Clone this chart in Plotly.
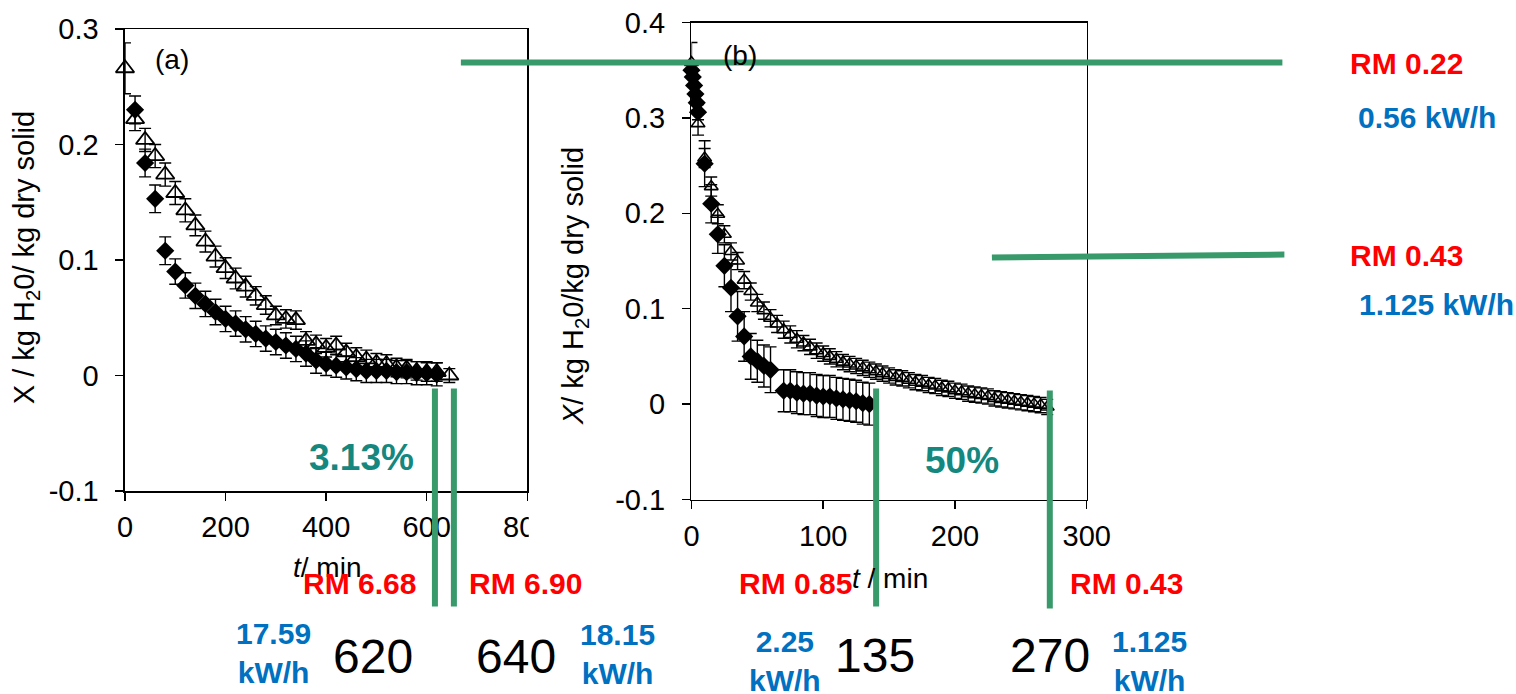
import plotly.graph_objects as go

# Calibration of the photographed page: screen = S * page + O (measured on earlier runs)
SX, OX = 0.981, 6.3
SY, OY = 0.955, 15.5
FW, FH = 1540, 712
FONT = "Liberation Sans, Arial, sans-serif"

# ---------------- data: panel (a) ----------------
a_tri_t = [0, 20, 40, 60, 80, 100, 120, 140, 160, 180, 200, 220, 240, 260, 280, 300, 320,
           340, 360, 380, 400, 420, 440, 460, 480, 500, 520, 540, 560, 580, 600, 620, 645]
a_tri_y = [0.266, 0.222, 0.204, 0.190, 0.174, 0.158, 0.143, 0.130, 0.116, 0.103, 0.093, 0.084,
           0.077, 0.069, 0.061, 0.052, 0.049, 0.048, 0.030, 0.027, 0.024, 0.026, 0.020, 0.016,
           0.014, 0.011, 0.010, 0.007, 0.006, 0.004, 0.003, 0.003, 0.000]
a_tri_err = [0.022, 0.010, 0.010, 0.010, 0.010, 0.010, 0.010, 0.009, 0.009, 0.009, 0.009, 0.009,
             0.009, 0.008, 0.008, 0.008, 0.008, 0.008, 0.008, 0.008, 0.008, 0.008, 0.008, 0.008,
             0.008, 0.008, 0.008, 0.008, 0.008, 0.008, 0.008, 0.008, 0.006]

a_dia_t = [20, 40, 60, 80, 100, 120, 140, 160, 180, 200, 220, 240, 260, 280, 300, 320, 340,
           360, 380, 400, 420, 440, 460, 480, 500, 520, 540, 560, 580, 600, 620]
a_dia_y = [0.230, 0.184, 0.153, 0.108, 0.090, 0.078, 0.069, 0.062, 0.055, 0.049, 0.045, 0.040,
           0.036, 0.032, 0.029, 0.026, 0.023, 0.019, 0.013, 0.010, 0.0085, 0.007, 0.0055, 0.004,
           0.004, 0.004, 0.003, 0.003, 0.002, 0.002, 0.001]
a_dia_err = [0.012, 0.012, 0.012, 0.012, 0.011, 0.011, 0.011, 0.011, 0.011, 0.011, 0.011, 0.011,
             0.011, 0.011, 0.011, 0.011, 0.011, 0.011, 0.011, 0.010, 0.010, 0.010, 0.010, 0.010,
             0.010, 0.010, 0.010, 0.010, 0.010, 0.010, 0.010]

# ---------------- data: panel (b) ----------------
b_tri_t = [0, 5, 10, 15, 20, 25, 30, 35, 40, 45, 50, 55, 60, 65, 70, 75, 80, 85, 90, 95, 100,
           105, 110, 115, 120, 125, 130, 135, 140, 145, 150, 155, 160, 165, 170, 175, 180, 185,
           190, 195, 200, 205, 210, 215, 220, 225, 230, 235, 240, 245, 250, 255, 260, 265, 270]
b_tri_y = [0.358, 0.294, 0.258, 0.228, 0.199, 0.178, 0.160, 0.150, 0.130, 0.118, 0.106, 0.098,
           0.090, 0.084, 0.078, 0.073, 0.068, 0.064, 0.060, 0.056, 0.053, 0.050, 0.047, 0.044,
           0.042, 0.040, 0.038, 0.036, 0.034, 0.032, 0.030, 0.028, 0.027, 0.025, 0.023, 0.022,
           0.020, 0.019, 0.017, 0.016, 0.014, 0.013, 0.011, 0.010, 0.009, 0.008, 0.006, 0.005,
           0.004, 0.003, 0.002, 0.001, 0.000, -0.001, -0.003]
b_tri_err = [0.021, 0.012, 0.010, 0.010, 0.010, 0.009, 0.009, 0.009, 0.009, 0.009, 0.009, 0.009,
             0.009, 0.009, 0.009, 0.009, 0.009, 0.008, 0.008, 0.008, 0.008, 0.008, 0.008, 0.008,
             0.008, 0.008, 0.008, 0.008, 0.008, 0.008, 0.008, 0.008, 0.008, 0.008, 0.008, 0.008,
             0.008, 0.008, 0.008, 0.008, 0.008, 0.008, 0.008, 0.008, 0.008, 0.008, 0.008, 0.008,
             0.008, 0.008, 0.008, 0.008, 0.008, 0.008, 0.008]

b_dia_t = [0, 1, 2, 3, 4, 5, 10, 15, 20, 25, 30, 35, 40, 45, 50, 55, 60,
           70, 75, 80, 85, 90, 95, 100, 105, 110, 115, 120, 125, 130, 135]
b_dia_y = [0.350, 0.343, 0.334, 0.325, 0.316, 0.306, 0.252, 0.210, 0.178, 0.145, 0.122, 0.092,
           0.071, 0.050, 0.045, 0.040, 0.036, 0.014, 0.014, 0.012, 0.011, 0.011, 0.009, 0.008,
           0.008, 0.006, 0.005, 0.004, 0.003, 0.001, 0.000]
b_dia_err = [0.008, 0.008, 0.008, 0.008, 0.008, 0.008, 0.024, 0.020, 0.020, 0.022, 0.025, 0.026,
             0.026, 0.024, 0.022, 0.022, 0.024, 0.022, 0.022, 0.022, 0.022, 0.022, 0.022, 0.022,
             0.022, 0.022, 0.022, 0.022, 0.022, 0.022, 0.022]

# ---------------- tick labels ----------------
a_xticks = [0, 200, 400, 600, 800]
a_yticks = [-0.1, 0, 0.1, 0.2, 0.3]
a_yticktext = ["-0.1", "0", "0.1", "0.2", "0.3"]
b_xticks = [0, 100, 200, 300]
b_yticks = [-0.1, 0, 0.1, 0.2, 0.3, 0.4]
b_yticktext = ["-0.1", "0", "0.1", "0.2", "0.3", "0.4"]

# ---------------- annotation texts ----------------
rm_texts = ["RM 6.68", "RM 6.90", "RM 0.85", "RM 0.43", "RM 0.22", "RM 0.43"]
kw_texts = ["17.59<br>kW/h", "18.15<br>kW/h", "2.25<br>kW/h", "1.125<br>kW/h",
            "0.56 kW/h", "1.125 kW/h"]
time_texts = ["620", "640", "135", "270"]
pct_texts = ["3.13%", "50%"]


def fx(s):
    return (s - OX) / SX


def fy(s):
    return (s - OY) / SY


def px_x(v):
    return fx(v) / FW


def px_y(v):
    return 1 - fy(v) / FH


def err(arr):
    return dict(type="data", array=arr, visible=True, color="black", thickness=1.4, width=6)


fig = go.Figure()

# panel (a)
fig.add_trace(go.Scatter(x=a_tri_t, y=a_tri_y, mode="markers", error_y=err(a_tri_err),
                         marker=dict(symbol="triangle-up-open", size=16, color="black",
                                     line=dict(width=1.8, color="black")),
                         xaxis="x", yaxis="y", cliponaxis=False))
fig.add_trace(go.Scatter(x=a_dia_t, y=a_dia_y, mode="markers", error_y=err(a_dia_err),
                         marker=dict(symbol="diamond", size=14, color="black",
                                     line=dict(width=0)),
                         xaxis="x", yaxis="y", cliponaxis=False))
# panel (b)
fig.add_trace(go.Scatter(x=b_tri_t, y=b_tri_y, mode="markers", error_y=err(b_tri_err),
                         marker=dict(symbol="triangle-up-open", size=12, color="black",
                                     line=dict(width=1.6, color="black")),
                         xaxis="x2", yaxis="y2", cliponaxis=False))
fig.add_trace(go.Scatter(x=b_dia_t, y=b_dia_y, mode="markers", error_y=err(b_dia_err),
                         marker=dict(symbol="diamond", size=14, color="black",
                                     line=dict(width=0)),
                         xaxis="x2", yaxis="y2", cliponaxis=False))

axis_common = dict(showline=True, mirror=True, linecolor="black", linewidth=1.5,
                   ticks="outside", ticklen=8, tickwidth=1.5, tickcolor="black",
                   showgrid=False, zeroline=False, ticklabeloverflow="allow",
                   tickfont=dict(family=FONT, size=29, color="black"))

fig.update_layout(
    width=FW, height=FH,
    margin=dict(l=0, r=0, t=0, b=0),
    paper_bgcolor="white", plot_bgcolor="white",
    showlegend=False, hovermode=False,
    xaxis=dict(domain=[px_x(123.5), px_x(526.5)], range=[0, 800], tickmode="array",
               tickvals=a_xticks, anchor="y", ticklabelstandoff=2, **axis_common),
    yaxis=dict(domain=[px_y(490.5), px_y(28.5)], range=[-0.1, 0.3], tickmode="array",
               tickvals=a_yticks, ticktext=a_yticktext, anchor="x", ticklabelstandoff=11,
               **axis_common),
    xaxis2=dict(domain=[px_x(691), px_x(1087)], range=[0, 300], tickmode="array",
                tickvals=b_xticks, anchor="y2", ticklabelstandoff=2, **axis_common),
    yaxis2=dict(domain=[px_y(499), px_y(22)], range=[-0.1, 0.4], tickmode="array",
                tickvals=b_yticks, ticktext=b_yticktext, anchor="x2", ticklabelstandoff=11,
                **axis_common),
)

ann = []


def add_text(text, x, y, size, color="black", bold=False, angle=0):
    ann.append(dict(text=f"<b>{text}</b>" if bold else text, x=px_x(x), y=px_y(y),
                    xref="paper", yref="paper", xanchor="center", yanchor="middle",
                    showarrow=False, textangle=angle,
                    font=dict(family=FONT, size=size, color=color)))


# axis titles and panel letters
add_text("X / kg H<sub>2</sub>0/ kg dry solid", 24, 257, 29, angle=-90)
add_text("<i>X</i>/ kg H<sub>2</sub>0/kg dry solid", 574, 286, 29, angle=-90)
add_text("<i>t</i>/ min", 326, 567, 28)
add_text("<i>t</i> / min", 890, 578, 28)
add_text("(a)", 171, 59, 28)
add_text("(b)", 740, 55, 28)

RED = "#ff0000"
BLUE = "#0070c0"
TEAL = "#14877f"
GREEN = "#38996a"

# RM labels
rm_pos = [(358, 583), (525, 583), (795, 583), (1127, 583), (1407, 63), (1407, 255)]
for t, (x, y) in zip(rm_texts, rm_pos):
    add_text(t, x, y, 30, RED, bold=True)

# kW/h labels
kw_pos = [(272, 652), (617, 653), (785, 660), (1150, 660), (1428, 117), (1437, 304)]
for t, (x, y) in zip(kw_texts, kw_pos):
    add_text(t, x, y, 30, BLUE, bold=True)

# time labels
time_pos = [(372, 656), (515, 656), (875, 655), (1050, 655)]
for t, (x, y) in zip(time_texts, time_pos):
    add_text(t, x, y, 48, "black")

# percentage labels
pct_pos = [(360, 457), (962, 460)]
for t, (x, y) in zip(pct_texts, pct_pos):
    add_text(t, x, y, 37, TEAL, bold=True)

fig.update_layout(annotations=ann)

shapes = []


def seg(x0, y0, x1, y1, color=GREEN, width=6):
    shapes.append(dict(type="line", xref="paper", yref="paper",
                       x0=px_x(x0), y0=px_y(y0), x1=px_x(x1), y1=px_y(y1),
                       line=dict(color=color, width=width), layer="above"))


# mask clipping the "800" tick label like in the reference
shapes.append(dict(type="rect", xref="paper", yref="paper",
                   x0=px_x(528), x1=px_x(565), y0=px_y(550), y1=px_y(505),
                   fillcolor="white", line=dict(width=0), layer="above"))

seg(460, 62, 1283, 62)
seg(992, 257, 1285, 254)
seg(434, 388, 434, 606)
seg(453, 388, 453, 606)
seg(876, 388, 876, 606)
seg(1050, 390, 1050, 608)

fig.update_layout(shapes=shapes)

fig.write_html("out.html",
               config={"displayModeBar": False, "staticPlot": True},
               post_script="document.body.style.margin='0';"
                           "document.body.style.overflow='hidden';")
